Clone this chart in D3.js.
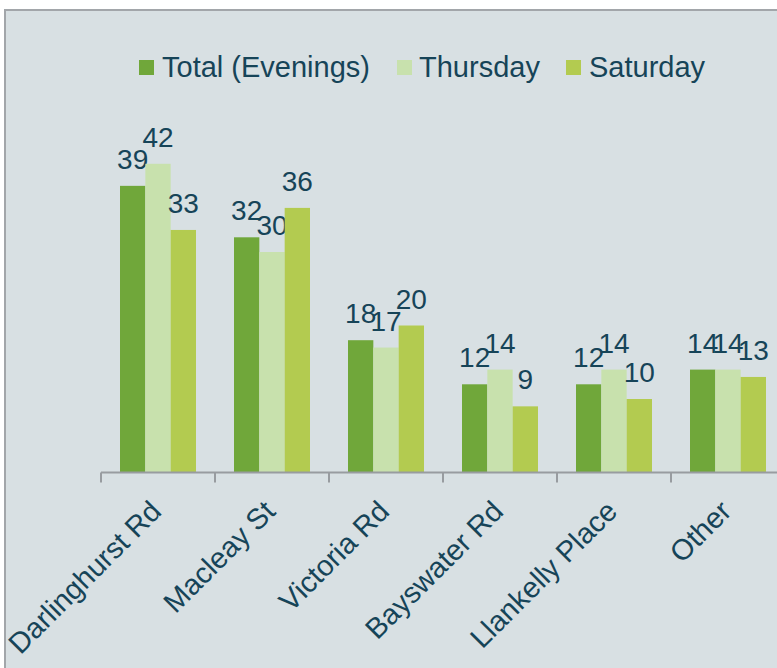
<!DOCTYPE html>
<html lang="en">
<head>
<meta charset="UTF-8">
<title>Evenings by street</title>
<script src="https://d3js.org/d3.v7.min.js"></script>
<style>
  body { margin: 0; background: #fff; }
  text { font-family: "Liberation Sans", Arial, sans-serif; fill: #164458; }
</style>
</head>
<body>
<div id="chart"></div>

<script>
// Data
const streets = ["Darlinghurst Rd", "Macleay St", "Victoria Rd", "Bayswater Rd", "Llankelly Place", "Other"];
const series = ["Total (Evenings)", "Thursday", "Saturday"];
const totalEvenings = [39, 32, 18, 12, 12, 14];
const thursday = [42, 30, 17, 14, 14, 14];
const saturday = [33, 36, 20, 9, 10, 13];
const colors = ["#70a73a", "#c8e1ad", "#b3cb50"];

const values = [totalEvenings, thursday, saturday];
const width = 777, height = 668;

const svg = d3.select("#chart").append("svg")
  .attr("width", width)
  .attr("height", height);

// Panel background with border on left/top
svg.append("rect")
  .attr("x", 5).attr("y", 10)
  .attr("width", width).attr("height", height)
  .attr("fill", "#d8e0e3")
  .attr("stroke", "#a2a6aa")
  .attr("stroke-width", 2);

// Scales
const x0 = d3.scaleBand()
  .domain(streets)
  .range([101, 101 + 114 * streets.length]);

const x1 = d3.scaleBand()
  .domain(series)
  .range([0, x0.bandwidth()])
  .paddingOuter(0.75);

const y = d3.scaleLinear()
  .domain([0, 45])
  .range([472.5, 472.5 - 45 * 7.35]);

// Bars
const groups = svg.selectAll("g.group")
  .data(streets)
  .enter().append("g")
  .attr("class", "group")
  .attr("transform", d => `translate(${x0(d)},0)`);

groups.each(function(street, i) {
  const g = d3.select(this);
  series.forEach((s, j) => {
    const v = values[j][i];
    g.append("rect")
      .attr("x", x1(s))
      .attr("y", y(v))
      .attr("width", x1.bandwidth())
      .attr("height", y(0) - y(v))
      .attr("fill", colors[j]);
    g.append("text")
      .attr("x", x1(s) + x1.bandwidth() / 2)
      .attr("y", y(v) - 17)
      .attr("text-anchor", "middle")
      .style("font-size", "28px")
      .text(v);
  });
});

// X axis: domain line + ticks at band edges
const axis = svg.append("g");
axis.append("line")
  .attr("x1", x0.range()[0]).attr("x2", x0.range()[1])
  .attr("y1", y(0)).attr("y2", y(0))
  .attr("stroke", "#989ca0").attr("stroke-width", 2);

const edges = streets.map(d => x0(d)).concat([x0.range()[1]]);
axis.selectAll("line.tick")
  .data(edges)
  .enter().append("line")
  .attr("class", "tick")
  .attr("x1", d => d).attr("x2", d => d)
  .attr("y1", y(0)).attr("y2", y(0) + 10)
  .attr("stroke", "#989ca0").attr("stroke-width", 2);

axis.selectAll("text.cat")
  .data(streets)
  .enter().append("text")
  .attr("class", "cat")
  .attr("transform", d => `translate(${x0(d) + x0.bandwidth() / 2 + 5},513) rotate(-45)`)
  .attr("text-anchor", "end")
  .style("font-size", "29px")
  .text(d => d);

// Legend
const legendX = [139, 397, 566];
const legend = svg.selectAll("g.legend")
  .data(series)
  .enter().append("g")
  .attr("class", "legend")
  .attr("transform", (d, i) => `translate(${legendX[i]},60)`);

legend.append("rect")
  .attr("width", 15).attr("height", 15)
  .attr("fill", (d, i) => colors[i]);

legend.append("text")
  .attr("x", (d, i) => i === 1 ? 22 : 23)
  .attr("y", 17)
  .style("font-size", "29px")
  .text(d => d);
</script>
</body>
</html>
